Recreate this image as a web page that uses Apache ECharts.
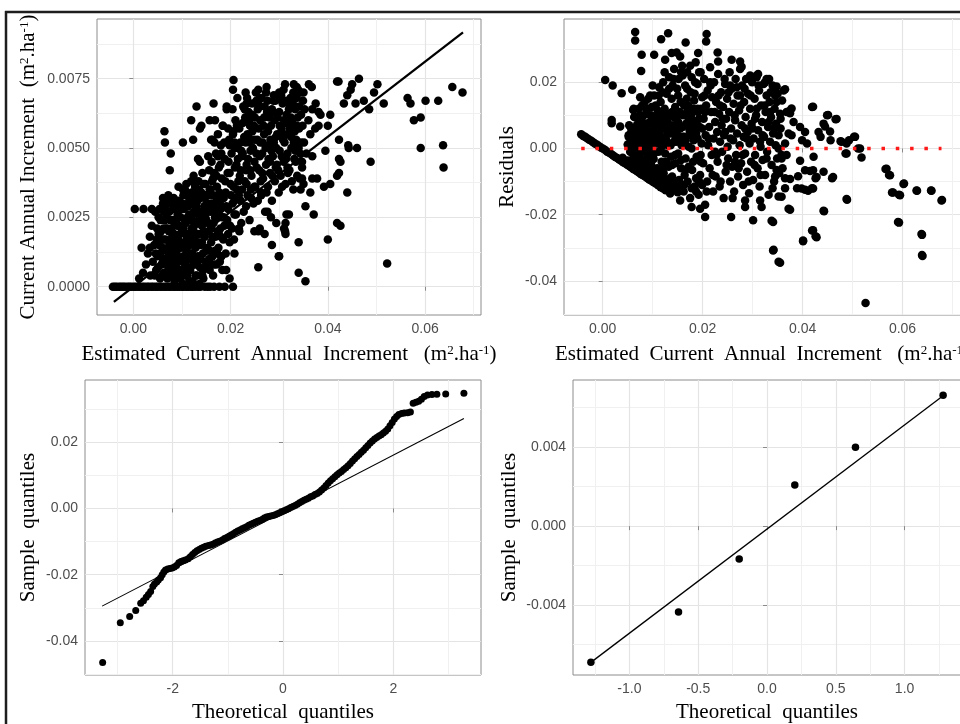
<!DOCTYPE html>
<html><head><meta charset="utf-8">
<script src="https://cdn.jsdelivr.net/npm/echarts@6/dist/echarts.min.js"></script>
<style>html,body{margin:0;padding:0;background:#fff;}#c{width:960px;height:724px;}</style>
</head><body><div id="c"></div><script>
// ---------- Panel 1: observed vs estimated current annual increment ----------
const p1ZeroRowX = [-0.0042,-0.0038,-0.0034,-0.0029,-0.0025,-0.0021,-0.0017,-0.0012,-0.0008,-0.0004,0.0001,0.0005,0.0010,0.0014,0.0019,0.0023,0.0028,0.0032,0.0037,0.0041,0.0046,0.0050,0.0055,0.0059,0.0064,0.0068,0.0073,0.0077,0.0082,0.0086,0.0091,0.0095,0.0100,0.0104,0.0109,0.0113,0.0118,0.0122,0.0127,0.0133,0.0138,0.0147,0.0153,0.0158,0.0166,0.0177,0.0188,0.0205];
const p1Core = [[0.0012,0.0003],[0.0020,0.0005],[0.0026,0.0008],[0.0030,0.0012],[0.0034,0.0018],[0.0038,0.0022],[0.0045,0.0027],[0.0061,0.0030],
[0.0035,0.0004],[0.0040,0.0009],[0.0043,0.0015],[0.0047,0.0006],[0.0050,0.0011],[0.0052,0.0019],[0.0055,0.0003],[0.0056,0.0024],[0.0058,0.0008],[0.0060,0.0014],[0.0062,0.0021],[0.0063,0.0005],[0.0065,0.0010],[0.0066,0.0017],[0.0068,0.0026],[0.0070,0.0003],[0.0071,0.0013],[0.0072,0.0007],[0.0073,0.0020],[0.0075,0.0030],[0.0076,0.0011],[0.0077,0.0016],[0.0079,0.0004],[0.0080,0.0024],[0.0081,0.0009],[0.0083,0.0014],[0.0084,0.0019],[0.0085,0.0002],[0.0087,0.0028],[0.0088,0.0007],[0.0089,0.0012],[0.0090,0.0022],[0.0092,0.0017],[0.0093,0.0004],[0.0094,0.0031],[0.0095,0.0010],[0.0097,0.0025],[0.0098,0.0014],[0.0099,0.0006],[0.0100,0.0020],[0.0102,0.0001],[0.0103,0.0011],[0.0104,0.0028],[0.0105,0.0016],[0.0107,0.0008],[0.0108,0.0023],[0.0109,0.0013],[0.0110,0.0033],[0.0111,0.0004],[0.0112,0.0019],[0.0114,0.0010],[0.0115,0.0026],[0.0116,0.0015],[0.0117,0.0006],[0.0118,0.0030],[0.0120,0.0021],[0.0121,0.0012],[0.0122,0.0002],[0.0123,0.0017],[0.0125,0.0027],[0.0126,0.0008],[0.0127,0.0036],[0.0128,0.0014],[0.0130,0.0023],[0.0131,0.0004],[0.0132,0.0031],[0.0133,0.0011],[0.0135,0.0019],[0.0136,0.0026],[0.0137,0.0007],[0.0139,0.0015],[0.0140,0.0034],[0.0141,0.0022],[0.0143,0.0012],[0.0144,0.0003],[0.0146,0.0029],[0.0147,0.0018],[0.0149,0.0009],[0.0150,0.0024],[0.0152,0.0014],[0.0154,0.0033],[0.0155,0.0020],[0.0157,0.0006],[0.0158,0.0027],[0.0160,0.0016],[0.0162,0.0038],[0.0163,0.0011],[0.0165,0.0023],[0.0167,0.0030],[0.0169,0.0018],[0.0171,0.0008],[0.0173,0.0026],[0.0175,0.0014],[0.0177,0.0034],[0.0179,0.0021],[0.0181,0.0011],
[0.0053,0.0015],[0.0057,0.0020],[0.0064,0.0024],[0.0067,0.0013],[0.0074,0.0027],[0.0078,0.0021],[0.0082,0.0028],[0.0086,0.0016],[0.0091,0.0026],[0.0096,0.0019],[0.0101,0.0030],[0.0106,0.0024],[0.0113,0.0029],[0.0119,0.0024],[0.0124,0.0020],
[0.0046,0.0012],[0.0049,0.0021],[0.0051,0.0007],[0.0054,0.0028],[0.0058,0.0017],[0.0061,0.0009],[0.0063,0.0027],[0.0067,0.0021],[0.0069,0.0009],[0.0072,0.0033],[0.0074,0.0015],[0.0078,0.0006],[0.0080,0.0018],[0.0083,0.0032],[0.0086,0.0010],[0.0088,0.0024],[0.0091,0.0006],[0.0093,0.0036],[0.0096,0.0016],[0.0098,0.0028],[0.0101,0.0009],[0.0103,0.0021],[0.0106,0.0035],[0.0108,0.0004],[0.0110,0.0018],[0.0113,0.0007],[0.0115,0.0031],[0.0117,0.0012],[0.0119,0.0038],[0.0122,0.0026],[0.0124,0.0008],[0.0127,0.0019],[0.0129,0.0033],[0.0131,0.0009],[0.0134,0.0024],[0.0136,0.0001],[0.0138,0.0032],[0.0141,0.0016],[0.0143,0.0006],[0.0145,0.0037],[0.0148,0.0025],[0.0150,0.0013],[0.0153,0.0029],[0.0156,0.0010],[0.0159,0.0035],[0.0161,0.0021],[0.0164,0.0004],[0.0166,0.0028],[0.0168,0.0013],[0.0172,0.0032],[0.0174,0.0020],[0.0178,0.0009],[0.0182,0.0025],[0.0186,0.0032],
[0.0044,0.0004],[0.0048,0.0017],[0.0052,0.0025],[0.0055,0.0012],[0.0059,0.0004],[0.0062,0.0017],[0.0065,0.0029],[0.0068,0.0005],[0.0070,0.0021],[0.0073,0.0011],[0.0076,0.0024],[0.0079,0.0013],[0.0082,0.0004],[0.0085,0.0023],[0.0087,0.0013],[0.0090,0.0030],[0.0092,0.0009],[0.0095,0.0022],[0.0097,0.0003],[0.0100,0.0015],[0.0103,0.0033],[0.0105,0.0006],[0.0108,0.0029],[0.0110,0.0010],[0.0112,0.0025],[0.0115,0.0002],[0.0118,0.0016],[0.0120,0.0034],[0.0123,0.0010],[0.0125,0.0022],[0.0128,0.0004],[0.0130,0.0029],[0.0133,0.0016],[0.0135,0.0035],[0.0138,0.0010],[0.0140,0.0027],[0.0142,0.0004],[0.0145,0.0020],[0.0148,0.0033],[0.0151,0.0007],[0.0154,0.0023],[0.0157,0.0013],[0.0160,0.0030],[0.0163,0.0018],[0.0166,0.0008],[0.0170,0.0025],[0.0173,0.0012],[0.0176,0.0030],[0.0180,0.0018],[0.0183,0.0006],[0.0187,0.0022],[0.0190,0.0012]];
const p1Band = [[0.0161,0.0045],[0.0163,0.0053],[0.0166,0.0041],[0.0168,0.0060],[0.0170,0.0048],[0.0172,0.0036],[0.0174,0.0055],[0.0176,0.0043],[0.0178,0.0030],[0.0180,0.0051],[0.0182,0.0039],[0.0184,0.0058],[0.0186,0.0025],[0.0188,0.0046],[0.0190,0.0034],[0.0192,0.0064],[0.0194,0.0041],[0.0195,0.0028],[0.0197,0.0053],[0.0199,0.0022],[0.0200,0.0037],[0.0202,0.0048],[0.0204,0.0030],[0.0206,0.0056],[0.0207,0.0017],[0.0209,0.0043],[0.0211,0.0026],[0.0213,0.0035],[0.0215,0.0050],[0.0217,0.0021],[0.0219,0.0040],[0.0221,0.0031],[0.0223,0.0047],[0.0225,0.0059],[0.0227,0.0027],[0.0229,0.0038],[0.0231,0.0052],[0.0233,0.0044],[0.0235,0.0033],[0.0237,0.0063],[0.0239,0.0024],[0.0241,0.0049],[0.0243,0.0040],[0.0245,0.0056],[0.0247,0.0030],[0.0249,0.0045],[0.0251,0.0036],[0.0253,0.0067],[0.0255,0.0053],[0.0257,0.0020],[0.0259,0.0042],[0.0261,0.0060],[0.0263,0.0033],[0.0265,0.0048],[0.0267,0.0039],[0.0269,0.0055],[0.0271,0.0027],[0.0273,0.0044],[0.0275,0.0063],[0.0277,0.0036],[0.0279,0.0051],[0.0281,0.0041],[0.0283,0.0058],[0.0285,0.0031],[0.0287,0.0047],[0.0289,0.0069],[0.0291,0.0038],[0.0293,0.0054],[0.0295,0.0044],[0.0297,0.0061],[0.0299,0.0034],[0.0301,0.0049],[0.0303,0.0040],[0.0305,0.0057],[0.0307,0.0066],[0.0309,0.0045],[0.0311,0.0052],[0.0313,0.0037],[0.0315,0.0062],[0.0317,0.0048],[0.0319,0.0055],[0.0321,0.0042],[0.0323,0.0068],[0.0325,0.0050],[0.0327,0.0059],[0.0329,0.0035],[0.0331,0.0046],[0.0333,0.0064],[0.0335,0.0053],[0.0337,0.0040],[0.0339,0.0071],[0.0341,0.0057],[0.0343,0.0048],[0.0345,0.0062],[0.0347,0.0043],[0.0349,0.0067],[0.0351,0.0052],
[0.0242,0.0035],[0.0246,0.0050],[0.0250,0.0061],[0.0254,0.0043],[0.0258,0.0057],[0.0262,0.0038],[0.0266,0.0052],[0.0270,0.0065],[0.0274,0.0034],[0.0278,0.0046],[0.0282,0.0053],[0.0286,0.0040],[0.0290,0.0060],[0.0294,0.0050],[0.0298,0.0042],[0.0302,0.0055],[0.0306,0.0036],[0.0310,0.0060],[0.0314,0.0046],[0.0318,0.0041],[0.0322,0.0057],[0.0326,0.0038],[0.0330,0.0052],[0.0334,0.0045],[0.0338,0.0061],[0.0342,0.0039],[0.0228,0.0054],[0.0232,0.0029],[0.0236,0.0046],[0.0240,0.0058],[0.0212,0.0044],[0.0216,0.0038],[0.0220,0.0052],[0.0224,0.0035],[0.0196,0.0045],[0.0191,0.0029],[0.0187,0.0052],[0.0183,0.0033],[0.0179,0.0044],[0.0175,0.0027],
[0.0124,0.0040],[0.0129,0.0029],[0.0134,0.0038],[0.0138,0.0024],[0.0142,0.0041],[0.0145,0.0027],[0.0148,0.0037],[0.0151,0.0030],[0.0156,0.0042],[0.0159,0.0022],[0.0164,0.0039],[0.0168,0.0025],[0.0171,0.0040],[0.0176,0.0019],[0.0180,0.0028],[0.0185,0.0017],[0.0189,0.0038],[0.0193,0.0024],[0.0198,0.0041],[0.0203,0.0021],
[0.0204,0.0064],[0.0210,0.0060],[0.0214,0.0068],[0.0218,0.0057],[0.0226,0.0065],[0.0230,0.0061],[0.0234,0.0068],[0.0238,0.0060],[0.0244,0.0066],[0.0248,0.0058],[0.0252,0.0070],[0.0256,0.0064],[0.0260,0.0047],[0.0264,0.0068],[0.0268,0.0058],[0.0272,0.0050],[0.0276,0.0067],[0.0280,0.0061],[0.0284,0.0049],[0.0288,0.0063],[0.0292,0.0067],[0.0296,0.0055],[0.0300,0.0063],[0.0304,0.0069],[0.0308,0.0053],[0.0312,0.0067],[0.0316,0.0055],[0.0320,0.0064],[0.0324,0.0061],[0.0328,0.0066],[0.0332,0.0056],[0.0336,0.0068],[0.0340,0.0050],[0.0344,0.0070],[0.0348,0.0058],[0.0352,0.0064],[0.0356,0.0048],[0.0360,0.0060],[0.0364,0.0055],
[0.0206,0.0036],[0.0209,0.0050],[0.0213,0.0058],[0.0217,0.0033],[0.0221,0.0042],[0.0225,0.0048],[0.0229,0.0064],[0.0233,0.0037],[0.0237,0.0054],[0.0241,0.0042],[0.0245,0.0062],[0.0249,0.0036],[0.0253,0.0048],[0.0257,0.0066],[0.0261,0.0052],[0.0265,0.0041],[0.0269,0.0061],[0.0273,0.0070],[0.0277,0.0056],[0.0281,0.0045],[0.0285,0.0064],[0.0289,0.0052],[0.0293,0.0043],[0.0297,0.0068],[0.0301,0.0058],[0.0305,0.0047],[0.0309,0.0071],[0.0313,0.0059],[0.0317,0.0043],[0.0321,0.0066],[0.0325,0.0054],[0.0329,0.0070],[0.0333,0.0049],[0.0337,0.0058],[0.0341,0.0065],[0.0345,0.0052]];
const p1Sparse = [[0.0003,0.0028],[0.0021,0.0028],[0.0038,0.0028],[0.0017,0.0014],[0.0034,0.0014],[0.0064,0.0056],[0.0065,0.0052],[0.0077,0.0048],[0.0075,0.0042],[0.0061,0.0032],[0.0069,0.0031],[0.0102,0.0052],[0.0119,0.0060],[0.0130,0.0065],[0.0137,0.0057],[0.0123,0.0053],[0.0165,0.0066],[0.0192,0.0065],[0.0206,0.00745],[0.0205,0.0071],[0.0231,0.0070],[0.0233,0.0066],[0.0257,0.0071],[0.0260,0.0068],[0.0274,0.0072],[0.0288,0.0067],[0.0300,0.0070],[0.0312,0.0073],[0.0330,0.0073],[0.0336,0.0072],[0.0350,0.0070],[0.0361,0.0073],[0.0367,0.0072],[0.0419,0.0074],[0.0422,0.0074],[0.0450,0.0073],[0.0464,0.0075],[0.0447,0.0071],[0.0502,0.0073],[0.0495,0.0070],[0.0515,0.0066],[0.0485,0.0064],[0.0474,0.0067],[0.0457,0.0066],[0.0440,0.0069],[0.0433,0.0066],[0.0564,0.0068],[0.0570,0.0066],[0.0601,0.0067],[0.0627,0.0067],[0.0656,0.0072],[0.0677,0.0070],[0.0577,0.0060],[0.0591,0.0061],[0.0591,0.0050],[0.0637,0.0051],[0.0638,0.0043],[0.0522,0.00084],[0.0423,0.0053],[0.0442,0.0051],[0.0443,0.0050],[0.0460,0.0050],[0.0423,0.0046],[0.0426,0.0045],[0.0488,0.0045],[0.0419,0.0040],[0.0423,0.0041],[0.0405,0.0037],[0.0392,0.0036],[0.0440,0.0034],[0.0368,0.0039],[0.0378,0.0039],[0.0364,0.0034],[0.0347,0.0039],[0.0350,0.0037],[0.0344,0.0035],[0.0395,0.0049],[0.0368,0.0047],[0.0347,0.0045],[0.0400,0.0058],[0.0405,0.0062],[0.0385,0.0062],[0.0381,0.0058],[0.0374,0.0057],[0.0375,0.0066],[0.0381,0.0063],[0.0368,0.0064],[0.0354,0.0029],[0.0371,0.0026],[0.0419,0.0023],[0.0426,0.0022],[0.0340,0.0016],[0.0400,0.0017],[0.0340,0.0005],[0.0354,0.0002],[0.0299,0.0011],[0.0320,0.0026],[0.0313,0.0023],[0.0310,0.0021],[0.0313,0.0019],[0.0285,0.0015],[0.0257,0.0007],[0.0315,0.0026],[0.0312,0.0020],[0.0276,0.0027],[0.0283,0.0025],[0.0294,0.0023],[0.0249,0.0020],[0.0260,0.0021],[0.0270,0.0019],[0.0208,0.0026],[0.0222,0.0023],[0.0218,0.0020],[0.0195,0.0019],[0.0198,0.0016],[0.0208,0.0012],[0.0181,0.0011],[0.0191,0.0006],[0.0198,0.0003],[0.0147,0.00066],[0.0154,0.0009],[0.0140,0.0058],[0.0157,0.0060],[0.0160,0.0053],[0.0167,0.0052],[0.0184,0.0058],[0.0195,0.0057],[0.0205,0.0055],[0.0198,0.0051],[0.0208,0.0052],[0.0133,0.0046],[0.0137,0.0045],[0.0154,0.0047],[0.0174,0.0047],[0.0181,0.0048],[0.0215,0.0046],[0.0222,0.0049],[0.0235,0.0055],[0.0239,0.0052],[0.0249,0.0053],[0.0232,0.0042],[0.0102,0.0035],[0.0109,0.0037],[0.0123,0.0032],[0.0126,0.0034],[0.0147,0.0032],[0.0157,0.0035],[0.0164,0.0033],[0.0201,0.0033],[0.0208,0.0031],[0.0242,0.0032],[0.0256,0.0031],[0.0263,0.0034],[0.0300,0.0011]];
const p1FitLine = [[-0.0040,-0.00055],[0.0678,0.00917]];
const p1XTicks = [0,0.02,0.04,0.06], p1XLabels = ['0.00','0.02','0.04','0.06'], p1XMinor = [0.01,0.03,0.05,0.07];
const p1YTicks = [0,0.0025,0.005,0.0075], p1YLabels = ['0.0000','0.0025','0.0050','0.0075'], p1YMinor = [0.00125,0.00375,0.00625,0.00875];

// ---------- Panel 2: residuals vs estimated ----------
const p2Diagonal = [[-0.0043,0.0043],[-0.0039,0.0038],[-0.0035,0.0035],[-0.0031,0.0031],[-0.0027,0.0026],[-0.0023,0.0023],[-0.0019,0.0019],[-0.0015,0.0014],[-0.0011,0.0011],[-0.0007,0.0007],[-0.0003,0.0002],[0.0001,-0.0001],[0.0005,-0.0005],[0.0009,-0.0010],[0.0013,-0.0013],[0.0017,-0.0017],[0.0021,-0.0021],[0.0025,-0.0026],[0.0029,-0.0029],[0.0033,-0.0033],[0.0037,-0.0037],[0.0041,-0.0042],[0.0045,-0.0045],[0.0049,-0.0049],[0.0053,-0.0053],[0.0057,-0.0057],[0.0061,-0.0062],[0.0065,-0.0065],[0.0069,-0.0069],[0.0073,-0.0073],[0.0077,-0.0078],[0.0081,-0.0081],[0.0085,-0.0085],[0.0089,-0.0089],[0.0093,-0.0094],[0.0097,-0.0097],[0.0101,-0.0101],[0.0106,-0.0106],[0.0111,-0.0111],[0.0116,-0.0117],[0.0121,-0.0121],[0.0126,-0.0126],
[0.0040,-0.0028],[0.0050,-0.0036],[0.0060,-0.0047],[0.0070,-0.0056],[0.0080,-0.0066],[0.0090,-0.0075],[0.0100,-0.0085],[0.0110,-0.0094],[0.0120,-0.0104],[0.0130,-0.0113],[0.0140,-0.0122],[0.0150,-0.0132]];
const p2Core = [[0.0050,0.0012],[0.0052,0.0035],[0.0055,-0.0010],[0.0057,0.0060],[0.0059,0.0022],[0.0061,-0.0030],[0.0063,0.0095],[0.0064,0.0045],[0.0066,0.0005],[0.0068,-0.0045],[0.0069,0.0072],[0.0071,0.0028],[0.0072,0.0120],[0.0074,-0.0015],[0.0075,0.0052],[0.0077,-0.0060],[0.0078,0.0085],[0.0079,0.0010],[0.0081,0.0038],[0.0082,-0.0035],[0.0084,0.0140],[0.0085,0.0065],[0.0086,-0.0070],[0.0088,0.0020],[0.0089,0.0105],[0.0090,-0.0020],[0.0092,0.0048],[0.0093,-0.0082],[0.0094,0.0080],[0.0096,0.0030],[0.0097,-0.0050],[0.0098,0.0125],[0.0099,0.0008],[0.0101,0.0060],[0.0102,-0.0032],[0.0103,0.0160],[0.0104,0.0095],[0.0105,-0.0090],[0.0107,0.0040],[0.0108,0.0015],[0.0109,-0.0060],[0.0110,0.0115],[0.0111,0.0070],[0.0112,-0.0010],[0.0113,0.0185],[0.0114,0.0050],[0.0115,-0.0100],[0.0116,0.0140],[0.0117,0.0025],[0.0118,-0.0040],[0.0119,0.0090],[0.0121,0.0200],[0.0122,-0.0075],[0.0123,0.0060],[0.0124,0.0120],[0.0125,-0.0015],[0.0126,0.0035],[0.0128,0.0165],[0.0129,-0.0110],[0.0130,0.0080],[0.0131,0.0010],[0.0132,-0.0055],[0.0133,0.0215],[0.0134,0.0105],[0.0136,0.0045],[0.0137,-0.0025],[0.0138,0.0150],[0.0139,-0.0085],[0.0141,0.0070],[0.0142,0.0020],[0.0143,0.0240],[0.0144,-0.0120],[0.0145,0.0125],[0.0146,-0.0045],[0.0148,0.0095],[0.0149,0.0180],[0.0150,0.0040],[0.0151,-0.0015],[0.0152,0.0210],[0.0153,-0.0095],[0.0155,0.0060],[0.0156,0.0140],[0.0157,-0.0060],[0.0158,0.0010],[0.0159,0.0250],[0.0161,0.0100],[0.0162,-0.0130],[0.0163,0.0035],[0.0165,0.0190],[0.0166,-0.0030],[0.0167,0.0075],[0.0169,0.0230],[0.0170,-0.0100],[0.0171,0.0130],[0.0172,0.0005],[0.0174,0.0055],[0.0175,-0.0150],[0.0176,0.0170],[0.0178,0.0215],[0.0179,-0.0065],[0.0180,0.0085],[0.0182,0.0025],[0.0183,0.0145],[0.0184,-0.0115],[0.0186,0.0260],[0.0187,0.0045],[0.0188,-0.0025],[0.0190,0.0195],[0.0191,0.0110],[0.0192,-0.0140],[0.0194,0.0065],[0.0195,-0.0080],[0.0196,0.0230],[0.0198,0.0015],[0.0199,0.0155],
[0.0070,0.0040],[0.0074,0.0100],[0.0080,-0.0010],[0.0083,0.0060],[0.0087,0.0120],[0.0091,0.0000],[0.0095,0.0160],[0.0100,-0.0060],[0.0106,0.0130],[0.0110,0.0030],[0.0114,-0.0070],[0.0120,0.0170],[0.0127,0.0090],[0.0135,-0.0090],[0.0140,0.0190],[0.0147,0.0020],[0.0154,0.0110],[0.0160,0.0220],[0.0164,-0.0080],[0.0168,0.0150],[0.0173,0.0040],[0.0177,0.0100],[0.0181,-0.0040],[0.0185,0.0200],[0.0189,0.0070],[0.0193,-0.0100],[0.0197,0.0120],
[0.0053,0.0070],[0.0058,0.0030],[0.0062,0.0000],[0.0066,0.0060],[0.0070,0.0095],[0.0073,-0.0035],[0.0076,0.0030],[0.0079,0.0130],[0.0082,0.0075],[0.0085,-0.0050],[0.0088,0.0040],[0.0091,0.0150],[0.0094,-0.0030],[0.0097,0.0100],[0.0100,0.0190],[0.0103,0.0020],[0.0106,-0.0075],[0.0109,0.0080],[0.0112,0.0160],[0.0115,0.0035],[0.0118,-0.0090],[0.0121,0.0110],[0.0124,0.0230],[0.0127,-0.0040],[0.0130,0.0050],[0.0133,0.0180],[0.0136,-0.0100],[0.0139,0.0110],[0.0142,0.0210],[0.0145,-0.0020],[0.0148,0.0060],[0.0151,0.0160],[0.0154,-0.0110],[0.0157,0.0230],[0.0160,0.0035],[0.0163,0.0130],[0.0166,-0.0065],[0.0169,0.0180],[0.0172,0.0090],[0.0175,0.0250],[0.0178,-0.0120],[0.0181,0.0040],[0.0184,0.0165],[0.0187,-0.0090],[0.0190,0.0120],[0.0193,0.0230],[0.0196,-0.0040],[0.0199,0.0060],
[0.0056,0.0045],[0.0060,-0.0015],[0.0063,0.0025],[0.0067,-0.0025],[0.0070,0.0060],[0.0073,0.0015],[0.0076,-0.0045],[0.0079,0.0050],[0.0082,0.0100],[0.0085,0.0005],[0.0088,-0.0060],[0.0091,0.0075],[0.0094,0.0030],[0.0097,-0.0075],[0.0100,0.0045],[0.0103,-0.0015],[0.0106,0.0080],[0.0109,-0.0085],[0.0112,0.0040],[0.0115,0.0100],[0.0118,0.0005],[0.0121,-0.0060],[0.0124,0.0075],[0.0127,0.0025],[0.0130,-0.0095],[0.0133,0.0060],[0.0136,0.0010],[0.0139,-0.0050],[0.0142,0.0095],[0.0145,0.0040],[0.0148,-0.0105],[0.0151,0.0080],[0.0154,0.0020],[0.0157,-0.0035],[0.0160,0.0065],[0.0163,-0.0110],[0.0166,0.0025],[0.0169,0.0110],[0.0172,-0.0055],[0.0175,0.0070],[0.0178,0.0000],[0.0181,0.0120],[0.0184,0.0055],[0.0187,-0.0130],[0.0190,0.0030],[0.0193,0.0090],[0.0196,-0.0020],[0.0199,-0.0110]];
const p2Band = [[0.0201,-0.0045],[0.0202,0.0090],[0.0203,0.0210],[0.0205,-0.0170],[0.0206,0.0040],[0.0207,0.0130],[0.0209,-0.0100],[0.0210,0.0175],[0.0211,0.0010],[0.0213,0.0065],[0.0214,-0.0060],[0.0215,0.0245],[0.0217,0.0110],[0.0218,-0.0020],[0.0219,0.0155],[0.0221,-0.0130],[0.0222,0.0030],[0.0223,0.0200],[0.0225,0.0080],[0.0226,-0.0085],[0.0227,0.0140],[0.0229,0.0050],[0.0230,-0.0040],[0.0231,0.0225],[0.0233,0.0105],[0.0234,-0.0115],[0.0235,0.0020],[0.0237,0.0170],[0.0238,0.0070],[0.0239,-0.0010],[0.0241,0.0125],[0.0242,-0.0150],[0.0243,0.0040],[0.0245,0.0195],[0.0246,-0.0070],[0.0247,0.0090],[0.0249,0.0150],[0.0250,0.0005],[0.0251,-0.0030],[0.0253,0.0110],[0.0254,0.0230],[0.0255,-0.0100],[0.0257,0.0060],[0.0258,0.0180],[0.0259,-0.0055],[0.0261,0.0025],[0.0262,0.0135],[0.0263,-0.0130],[0.0265,0.0085],[0.0266,0.0210],[0.0267,-0.0020],[0.0269,0.0045],[0.0270,0.0160],[0.0271,-0.0085],[0.0273,0.0115],[0.0274,0.0010],[0.0275,0.0240],[0.0277,-0.0045],[0.0278,0.0070],[0.0279,0.0190],[0.0281,-0.0110],[0.0282,0.0035],[0.0283,0.0140],[0.0285,-0.0015],[0.0286,0.0095],[0.0287,0.0210],[0.0289,-0.0070],[0.0290,0.0050],[0.0291,0.0165],[0.0293,-0.0135],[0.0294,0.0015],[0.0295,0.0120],[0.0297,-0.0040],[0.0298,0.0075],[0.0299,0.0200],[0.0301,-0.0095],[0.0302,0.0030],[0.0304,0.0150],[0.0305,-0.0020],[0.0307,0.0100],[0.0308,0.0215],[0.0310,-0.0060],[0.0311,0.0055],[0.0313,0.0175],[0.0314,-0.0115],[0.0316,0.0005],[0.0317,0.0130],[0.0319,0.0080],[0.0320,-0.0035],[0.0322,0.0195],[0.0323,0.0035],[0.0325,-0.0080],[0.0326,0.0110],[0.0328,0.0160],[0.0329,-0.0010],[0.0331,0.0065],[0.0332,-0.0140],[0.0334,0.0140],[0.0335,0.0020],[0.0337,0.0095],[0.0338,-0.0050],[0.0340,0.0190],[0.0341,0.0045],[0.0343,-0.0100],[0.0344,0.0120],[0.0346,0.0010],[0.0347,0.0075],[0.0349,-0.0030],[0.0350,0.0165],[0.0352,0.0040],[0.0353,-0.0075],[0.0355,0.0105],[0.0356,0.0060],[0.0358,-0.0020],[0.0359,0.0145],
[0.0204,0.0160],[0.0208,-0.0130],[0.0212,0.0030],[0.0216,0.0190],[0.0220,-0.0080],[0.0224,0.0110],[0.0228,-0.0020],[0.0232,0.0160],[0.0236,-0.0100],[0.0240,0.0090],[0.0244,0.0210],[0.0248,-0.0050],[0.0252,0.0170],[0.0256,0.0030],[0.0260,-0.0150],[0.0264,0.0100],[0.0268,0.0185],[0.0272,-0.0060],[0.0276,0.0130],[0.0280,-0.0020],[0.0284,0.0180],[0.0288,0.0030],[0.0292,-0.0100],[0.0296,0.0160],[0.0300,0.0060],[0.0304,-0.0050],[0.0308,0.0120],[0.0312,0.0190],[0.0316,-0.0080],[0.0320,0.0040],[0.0324,0.0130],[0.0328,-0.0030],[0.0332,0.0080],[0.0336,0.0170],[0.0340,-0.0120],[0.0344,0.0060],[0.0348,0.0140],[0.0352,0.0000],[0.0356,0.0090],[0.0360,-0.0060],
[0.0205,0.0110],[0.0215,0.0200],[0.0225,-0.0010],[0.0235,0.0130],[0.0245,0.0050],[0.0255,0.0190],[0.0265,-0.0040],[0.0275,0.0160],[0.0285,0.0060],[0.0295,0.0220],[0.0305,0.0090],[0.0315,0.0020],[0.0325,0.0200],[0.0335,0.0110]];
const p2Sparse = [[0.0065,0.0352],[0.0065,0.0326],[0.0078,0.0283],[0.0077,0.0234],[0.0103,0.0283],[0.0117,0.0330],[0.0131,0.0348],[0.0125,0.0268],[0.0138,0.0288],[0.0148,0.0290],[0.0155,0.0278],[0.0166,0.0320],[0.0191,0.0288],[0.0208,0.0346],[0.0207,0.0323],[0.0230,0.0290],[0.0231,0.0263],[0.0258,0.0268],[0.0275,0.0263],[0.0278,0.0247],[0.0311,0.0225],[0.0333,0.0210],[0.0348,0.0187],[0.0365,0.0179],[0.0378,0.0121],[0.0375,0.0106],[0.0421,0.0126],[0.0451,0.0101],[0.0468,0.0089],[0.0445,0.0066],[0.0455,0.0051],[0.0478,0.0020],[0.0488,0.0015],[0.0505,0.0035],[0.0488,-0.0015],[0.0515,0.0000],[0.0518,-0.0027],[0.0568,-0.0061],[0.0575,-0.0081],[0.0581,-0.0133],[0.0595,-0.0141],[0.0603,-0.0106],[0.0629,-0.0128],[0.0658,-0.0128],[0.0678,-0.0157],[0.0593,-0.0224],[0.0639,-0.0261],[0.0640,-0.0325],[0.0526,-0.0467],[0.0341,-0.0308],[0.0355,-0.0345],[0.0341,-0.0222],[0.0401,-0.0280],[0.0421,-0.0247],[0.0428,-0.0268],[0.0443,-0.0190],[0.0489,-0.0155],[0.0375,-0.0185],[0.0301,-0.0217],[0.0257,-0.0207],[0.0205,-0.0207],[0.0178,-0.0177],[0.0195,-0.0182],[0.0155,-0.0157],[0.0135,-0.0136],[0.0285,-0.0157],[0.0285,-0.0177],[0.0315,-0.0157],[0.0318,-0.0177],[0.0358,-0.0146],[0.0398,-0.0121],[0.0411,-0.0128],[0.0421,-0.0121],[0.0391,-0.0084],[0.0405,-0.0066],[0.0421,-0.0066],[0.0428,-0.0086],[0.0461,-0.0086],[0.0005,0.0207],[0.0020,0.0190],[0.0038,0.0167],[0.0018,0.0086],[0.0018,0.0076],[0.0035,0.0066],[0.0059,0.0177],[0.0061,0.0116],[0.0065,0.0096],[0.0052,0.0040],[0.0062,0.0120],[0.0075,0.0155],
[0.0308,0.0220],[0.0328,0.0210],[0.0345,0.0185],[0.0345,0.0160],[0.0362,0.0175],[0.0419,0.0125],[0.0368,0.0110],[0.0375,0.0115],[0.0382,0.0080],[0.0395,0.0065],[0.0405,0.0050],[0.0372,0.0045],[0.0378,0.0040],[0.0365,0.0015],[0.0399,0.0025],[0.0409,0.0015],[0.0432,0.0050],[0.0436,0.0035],[0.0442,0.0075],[0.0449,0.0100],[0.0466,0.0088],[0.0456,0.0025],[0.0476,0.0022],[0.0493,0.0025],[0.0503,0.0035],[0.0486,-0.0015],[0.0511,0.0000],[0.0422,-0.0025],[0.0395,-0.0037],[0.0368,-0.0020],[0.0358,-0.0030],[0.0348,-0.0065],[0.0345,-0.0085],[0.0365,-0.0090],[0.0375,-0.0092],[0.0415,-0.0068],[0.0426,-0.0090],[0.0442,-0.0070],[0.0459,-0.0090],[0.0389,-0.0120],[0.0405,-0.0125],[0.0419,-0.0120],[0.0365,-0.0120],[0.0352,-0.0145],[0.0372,-0.0182],[0.0442,-0.0188],[0.0488,-0.0153],[0.0338,-0.0218],[0.0419,-0.0248],[0.0426,-0.0265],[0.0401,-0.0278],[0.0342,-0.0306],[0.0352,-0.0342],[0.0602,-0.0107],[0.0579,-0.0133],[0.0593,-0.0140],[0.0628,-0.0127],[0.0657,-0.0127],[0.0679,-0.0156],[0.0591,-0.0222],[0.0638,-0.0258],[0.0639,-0.0322],[0.0566,-0.0062],[0.0573,-0.0080]];
const p2ZeroLine = [[-0.0043,0],[0.0678,0]];
const p2XTicks = [0,0.02,0.04,0.06], p2XLabels = ['0.00','0.02','0.04','0.06'], p2XMinor = [0.01,0.03,0.05,0.07];
const p2YTicks = [-0.04,-0.02,0,0.02], p2YLabels = ['-0.04','-0.02','0.00','0.02'], p2YMinor = [-0.05,-0.03,-0.01,0.01,0.03];

// ---------- Panel 3: normal QQ plot of residuals ----------
const p3Theoretical = [-3.27,-2.95,-2.78,-2.67,-2.58,-2.53,-2.48,-2.44,-2.40,-2.36,-2.33,-2.29,-2.26,-2.22,-2.19,-2.16,-2.13,-2.09,-2.05,-2.01,-1.97,-1.93,-1.89,-1.85,-1.81,-1.77,-1.72,-1.68,-1.64,-1.60,-1.56,-1.52,-1.48,-1.44,-1.40,-1.35,-1.31,-1.27,-1.23,-1.19,-1.15,-1.10,-1.06,-1.02,-0.98,-0.94,-0.90,-0.86,-0.82,-0.78,-0.74,-0.70,-0.66,-0.62,-0.58,-0.54,-0.50,-0.46,-0.42,-0.38,-0.34,-0.30,-0.26,-0.22,-0.18,-0.14,-0.10,-0.06,-0.02,0.02,0.06,0.10,0.14,0.18,0.22,0.26,0.30,0.34,0.38,0.42,0.46,0.50,0.54,0.58,0.62,0.66,0.70,0.74,0.78,0.82,0.86,0.90,0.94,0.98,1.02,1.06,1.10,1.14,1.18,1.22,1.26,1.30,1.34,1.38,1.42,1.46,1.50,1.54,1.58,1.62,1.66,1.70,1.74,1.78,1.82,1.86,1.90,1.94,1.98,2.02,2.06,2.10,2.15,2.20,2.26,2.31,2.36,2.41,2.46,2.51,2.56,2.62,2.70,2.79,2.95,3.28];
const p3Sample = [-0.0465,-0.0345,-0.0326,-0.0308,-0.0286,-0.0279,-0.0268,-0.0260,-0.0251,-0.0236,-0.0228,-0.0222,-0.0216,-0.0209,-0.0200,-0.0192,-0.0186,-0.0183,-0.0181,-0.0180,-0.0177,-0.0172,-0.0164,-0.0160,-0.0158,-0.0156,-0.0152,-0.0146,-0.0139,-0.0133,-0.0128,-0.0124,-0.0120,-0.0117,-0.0114,-0.0112,-0.0110,-0.0108,-0.0104,-0.0101,-0.0099,-0.0095,-0.0091,-0.0088,-0.0084,-0.0080,-0.0076,-0.0072,-0.0068,-0.0065,-0.0061,-0.0058,-0.0055,-0.0051,-0.0048,-0.0045,-0.0042,-0.0039,-0.0036,-0.0033,-0.0029,-0.0026,-0.0024,-0.0023,-0.0021,-0.0019,-0.0016,-0.0013,-0.0010,-0.0007,-0.0004,-0.0001,0.0003,0.0006,0.0009,0.0013,0.0017,0.0021,0.0025,0.0028,0.0031,0.0035,0.0038,0.0042,0.0045,0.0050,0.0056,0.0062,0.0069,0.0077,0.0084,0.0090,0.0096,0.0102,0.0107,0.0112,0.0118,0.0123,0.0129,0.0136,0.0143,0.0150,0.0157,0.0163,0.0170,0.0176,0.0183,0.0190,0.0198,0.0204,0.0210,0.0214,0.0219,0.0223,0.0228,0.0233,0.0240,0.0250,0.0260,0.0270,0.0278,0.0284,0.0287,0.0288,0.0289,0.0291,0.0318,0.0321,0.0324,0.0330,0.0338,0.0343,0.0344,0.0345,0.0346,0.0348];
const p3RefLine = [[-3.28,-0.0295],[3.28,0.0272]];
const p3XTicks = [-2,0,2], p3XLabels = ['-2','0','2'], p3XMinor = [-3,-1,1,3];
const p3YTicks = [-0.04,-0.02,0,0.02], p3YLabels = ['-0.04','-0.02','0.00','0.02'], p3YMinor = [-0.05,-0.03,-0.01,0.01,0.03];

// ---------- Panel 4: QQ plot of plot-level values ----------
const p4Theoretical = [-1.28,-0.643,-0.202,0.202,0.643,1.28];
const p4Sample = [-0.0069,-0.00435,-0.00167,0.00208,0.0040,0.00663];
const p4RefLine = [[-1.28,-0.0069],[1.28,0.0066]];
const p4XTicks = [-1,-0.5,0,0.5,1], p4XLabels = ['-1.0','-0.5','0.0','0.5','1.0'], p4XMinor = [-1.25,-0.75,-0.25,0.25,0.75,1.25];
const p4YTicks = [-0.004,0,0.004], p4YLabels = ['-0.004','0.000','0.004'], p4YMinor = [-0.006,-0.002,0.002,0.006];

// ---------- helpers ----------
const SERIF = '"Liberation Serif","Times New Roman",serif';
const SANS = '"Liberation Sans",Arial,Helvetica,sans-serif';
const titleStyle = {fontFamily:SERIF,fontSize:21,color:'#000',
  rich:{t:{fontFamily:SERIF,fontSize:21,color:'#000'},s:{fontFamily:SERIF,fontSize:13,color:'#000',verticalAlign:'top'}}};
function majorAxis(grid,min,max,ticks,labels,name,gap){
  return {type:'value',gridIndex:grid,min:min,max:max,
    name:name,nameLocation:'middle',nameGap:gap,nameTextStyle:titleStyle,nameMoveOverlap:false,
    axisLine:{show:false},
    axisTick:{show:true,inside:false,length:4,lineStyle:{color:'#8a8a8a',width:1},customValues:ticks},
    axisLabel:{show:true,color:'#4d4d4d',fontSize:14,fontFamily:SANS,margin:7,customValues:ticks,hideOverlap:false,
      formatter:function(v){for(let i=0;i<ticks.length;i++){if(Math.abs(ticks[i]-v)<1e-10)return labels[i];}return '';}},
    splitLine:{show:true,lineStyle:{color:'#e4e4e4',width:1.2}}};
}
function minorAxis(grid,min,max,vals){
  return {type:'value',gridIndex:grid,min:min,max:max,
    axisLine:{show:false},axisTick:{show:false,customValues:vals},
    axisLabel:{show:false,customValues:vals},
    splitLine:{show:true,lineStyle:{color:'#f0f0f0',width:1}}};
}
const toPairs = (xs,ys)=>xs.map((x,i)=>[x,ys[i]]);
const dots = (xi,yi,data,size)=>({type:'scatter',xAxisIndex:xi,yAxisIndex:yi,data:data,symbol:'circle',symbolSize:size,
  itemStyle:{color:'#000',opacity:1},large:false,silent:true,z:2});
const seg = (xi,yi,data,width,extra)=>Object.assign({type:'line',xAxisIndex:xi,yAxisIndex:yi,data:data,symbol:'none',silent:true,z:3,
  lineStyle:{color:'#000',width:width}},extra||{});

const X1 = [-0.00747,0.0715], Y1 = [-0.00102,0.00965];
const X2 = [-0.00774,0.0717], Y2 = [-0.0503,0.0391];
const X3 = [-3.59,3.59], Y3 = [-0.0503,0.0388];
const X4 = [-1.41,1.41], Y4 = [-0.00754,0.00740];

const nameX1 = '{t|Estimated  Current  Annual  Increment   (m}{s|2}{t|.ha}{s|-1}{t|)}';
const nameY1 = '{t|Current Annual Increment  (m}{s|2}{t|.ha}{s|-1}{t|)}';
const gridBase = {show:true,borderColor:'#8c8c8c',borderWidth:1,backgroundColor:'#fff',containLabel:false,outerBoundsMode:'none'};

const option = {
  animation:false,
  backgroundColor:'#fff',
  grid:[
    Object.assign({left:97,top:19,width:384,height:296},gridBase),
    Object.assign({left:564,top:19,width:397,height:296},gridBase),
    Object.assign({left:85,top:380,width:396,height:295},gridBase),
    Object.assign({left:573,top:380,width:388,height:295},gridBase)
  ],
  xAxis:[
    majorAxis(0,X1[0],X1[1],p1XTicks,p1XLabels,nameX1,29), minorAxis(0,X1[0],X1[1],p1XMinor),
    majorAxis(1,X2[0],X2[1],p2XTicks,p2XLabels,nameX1,29), minorAxis(1,X2[0],X2[1],p2XMinor),
    majorAxis(2,X3[0],X3[1],p3XTicks,p3XLabels,'{t|Theoretical  quantiles}',27), minorAxis(2,X3[0],X3[1],p3XMinor),
    majorAxis(3,X4[0],X4[1],p4XTicks,p4XLabels,'{t|Theoretical  quantiles}',27), minorAxis(3,X4[0],X4[1],p4XMinor)
  ],
  yAxis:[
    majorAxis(0,Y1[0],Y1[1],p1YTicks,p1YLabels,nameY1,58), minorAxis(0,Y1[0],Y1[1],p1YMinor),
    majorAxis(1,Y2[0],Y2[1],p2YTicks,p2YLabels,'{t|Residuals}',46), minorAxis(1,Y2[0],Y2[1],p2YMinor),
    majorAxis(2,Y3[0],Y3[1],p3YTicks,p3YLabels,'{t|Sample  quantiles}',46), minorAxis(2,Y3[0],Y3[1],p3YMinor),
    majorAxis(3,Y4[0],Y4[1],p4YTicks,p4YLabels,'{t|Sample  quantiles}',53), minorAxis(3,Y4[0],Y4[1],p4YMinor)
  ],
  series:[
    dots(0,0,p1ZeroRowX.map(x=>[x,0]),8.5),
    dots(0,0,p1Core,8.5), dots(0,0,p1Band,8.5), dots(0,0,p1Sparse,8.5),
    seg(0,0,p1FitLine,2.3),
    dots(2,2,p2Diagonal,8.5), dots(2,2,p2Core,8.5), dots(2,2,p2Band,8.5), dots(2,2,p2Sparse,8.5),
    seg(2,2,p2ZeroLine,3.5,{lineStyle:{color:'#ff1a1a',width:3.5,type:[3.5,10.8]},z:4}),
    dots(4,4,toPairs(p3Theoretical,p3Sample),7),
    seg(4,4,p3RefLine,1.1),
    dots(6,6,toPairs(p4Theoretical,p4Sample),7.5),
    seg(6,6,p4RefLine,1.3)
  ],
  graphic:[
    {type:'line',z:100,shape:{x1:5,y1:12,x2:960,y2:12},style:{stroke:'#1e1e1e',lineWidth:2.5}},
    {type:'line',z:100,shape:{x1:6,y1:11,x2:6,y2:724},style:{stroke:'#1e1e1e',lineWidth:2.5}}
  ]
};
const chart = echarts.init(document.getElementById('c'),null,{renderer:'canvas'});
chart.setOption(option);
</script></body></html>
